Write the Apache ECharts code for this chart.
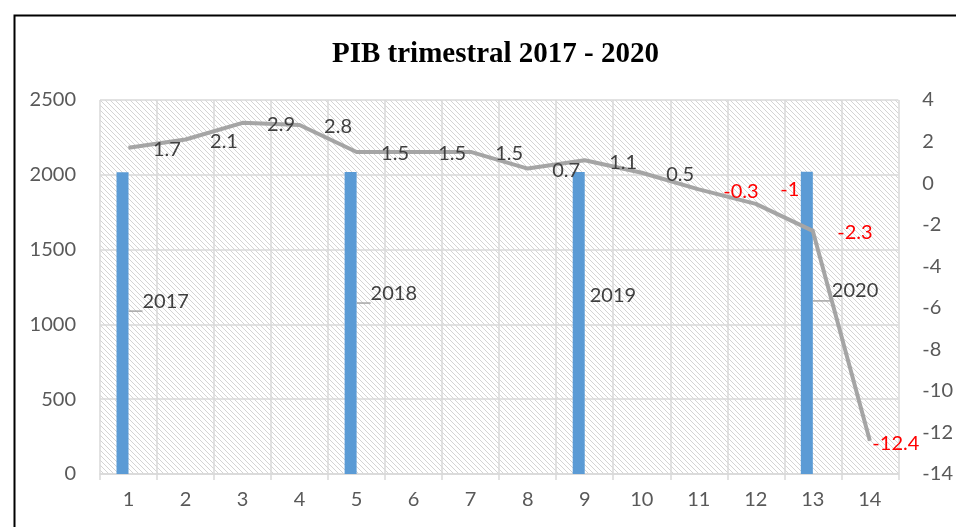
<!DOCTYPE html>
<html>
<head>
<meta charset="utf-8">
<script src="https://cdn.jsdelivr.net/npm/echarts@6/dist/echarts.min.js"></script>
<style>
  html, body { margin: 0; padding: 0; background: #fff; }
  #chart { width: 956px; height: 527px; }
</style>
</head>
<body>
<div id="chart"></div>
<script>
// quarters 1..14
const categories = ['1', '2', '3', '4', '5', '6', '7', '8', '9', '10', '11', '12', '13', '14'];
// year markers (bars), only on the first quarter of each year
const yearBars = [2017, null, null, null, 2018, null, null, null, 2019, null, null, null, 2020, null];
// quarterly GDP growth (%)
const pibValues = [1.7, 2.1, 2.9, 2.8, 1.5, 1.5, 1.5, 0.7, 1.1, 0.5, -0.3, -1, -2.3, -12.4];
const leftTicks = { min: 0, max: 2500, interval: 500 };
const rightTicks = { min: -14, max: 4, interval: 2 };

const font = 'Lato';
const fs = 20;

// diagonal hatch used as plot background
function hatch() {
  const c = document.createElement('canvas');
  const n = 5;
  c.width = n; c.height = n;
  const ctx = c.getContext('2d');
  ctx.fillStyle = '#fff';
  ctx.fillRect(0, 0, n, n);
  ctx.strokeStyle = '#d4d4d4';
  ctx.lineWidth = 1;
  ctx.beginPath();
  ctx.moveTo(-1, -1); ctx.lineTo(n + 1, n + 1);
  ctx.moveTo(-1, n - 1); ctx.lineTo(1, n + 1);
  ctx.moveTo(n - 1, -1); ctx.lineTo(n + 1, 1);
  ctx.stroke();
  return c;
}

const chart = echarts.init(document.getElementById('chart'));

// bar label tweaks (Excel labels were dragged by hand)
const barLabelOffsets = { 0: [14, -22, true], 4: [14, -30, true], 8: [5, -27, false], 12: [19, -32, true] };
const barData = yearBars.map((v, i) => {
  if (v == null) return null;
  const o = barLabelOffsets[i];
  return {
    value: v,
    label: { distance: o[0], offset: [0, o[1]] },
    labelLine: { show: o[2] }
  };
});

const lineData = pibValues.map((v, i) => {
  const item = {
    value: v,
    label: { color: v < 0 ? '#ff0000' : '#404040' }
  };
  if (i === 11) item.label.offset = [0, -14];
  if (i === 13) { item.label.distance = 2; item.label.offset = [0, 3]; }
  return item;
});

chart.setOption({
  animation: false,
  title: {
    text: 'PIB trimestral 2017 - 2020',
    left: 327,
    top: 35,
    textStyle: { fontFamily: 'Liberation Serif', fontWeight: 'bold', fontSize: 29, color: '#000' }
  },
  graphic: [{
    type: 'rect',
    left: 12, top: 13,
    shape: { width: 970, height: 540 },
    style: { fill: 'none', stroke: '#000', lineWidth: 2 },
    silent: true
  }],
  grid: {
    left: 100, right: 56, top: 100, bottom: 53,
    show: true,
    borderWidth: 0,
    backgroundColor: { image: hatch(), repeat: 'repeat' }
  },
  xAxis: {
    type: 'category',
    data: categories,
    boundaryGap: true,
    axisLine: { lineStyle: { color: '#d9d9d9', width: 1.5 } },
    axisTick: { show: true, length: 6, lineStyle: { color: '#d9d9d9', width: 1.5 } },
    axisLabel: { color: '#595959', fontFamily: font, fontSize: fs, margin: 16 },
    splitLine: { show: true, lineStyle: { color: '#d9d9d9', width: 1.5 } }
  },
  yAxis: [{
    type: 'value',
    min: leftTicks.min, max: leftTicks.max, interval: leftTicks.interval,
    axisLine: { show: false },
    axisTick: { show: false },
    axisLabel: { color: '#595959', fontFamily: font, fontSize: fs, margin: 24, formatter: v => String(v) },
    splitLine: { show: true, lineStyle: { color: '#d9d9d9', width: 1.5 } }
  }, {
    type: 'value',
    min: rightTicks.min, max: rightTicks.max, interval: rightTicks.interval,
    axisLine: { show: false },
    axisTick: { show: false },
    axisLabel: { color: '#595959', fontFamily: font, fontSize: fs, margin: 24, formatter: v => String(v) },
    splitLine: { show: false }
  }],
  series: [{
    name: 'Año',
    type: 'bar',
    barWidth: 12,
    barGap: '0%',
    data: barData,
    itemStyle: { color: '#5b9bd5' },
    label: {
      show: true,
      position: 'right',
      formatter: '{c}',
      color: '#404040',
      fontFamily: font,
      fontSize: fs
    },
    labelLine: { show: true, lineStyle: { color: '#a5a5a5', width: 1.5 } }
  }, {
    // empty partner so the year bar sits left of the category centre, as in the cluster
    name: 'vacío',
    type: 'bar',
    barWidth: 12,
    data: categories.map(() => null)
  }, {
    name: 'PIB',
    type: 'line',
    yAxisIndex: 1,
    data: lineData,
    symbol: 'circle',
    symbolSize: 1,
    showSymbol: true,
    itemStyle: { color: '#a5a5a5' },
    z: 5,
    lineStyle: { color: '#a5a5a5', width: 4, join: 'round' },
    label: {
      show: true,
      position: 'right',
      distance: 24,
      offset: [0, 2],
      formatter: '{c}',
      fontFamily: font,
      fontSize: fs
    }
  }]
});
</script>
</body>
</html>
